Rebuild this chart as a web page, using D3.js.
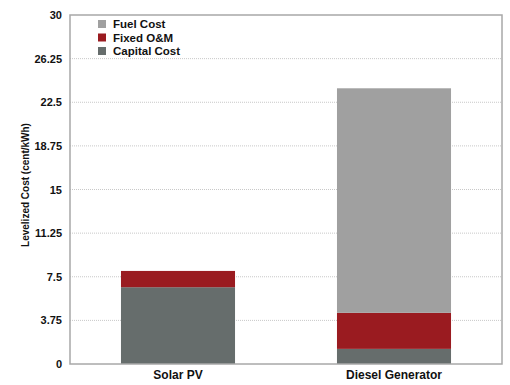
<html>
    <head>
        <script src="https://d3js.org/d3.v7.min.js"></script>
        <title>Levelized Cost</title>
        <style>
            body { margin: 0; background: #fff; }
            text { font-family: "Liberation Sans", Arial, sans-serif; font-weight: bold; fill: #111; }
        </style>
    </head>
    <body>
        <div class="viz"></div>
        <script type="text/javascript">
            var categories = ["Solar PV", "Diesel Generator"];
            var capitalCost = [6.6, 1.3];
            var fixedOM = [1.4, 3.1];
            var fuelCost = [0, 19.3];
            var tickValues = [0, 3.75, 7.5, 11.25, 15, 18.75, 22.5, 26.25, 30];
            var seriesNames = ["Capital Cost", "Fixed O&M", "Fuel Cost"];
            var seriesColors = ["#666d6c", "#9a1b20", "#a0a0a0"];

            var vizWidth = 510, vizHeight = 385;
            var margin = {top: 15, right: 8, bottom: 21, left: 70};
            var w = vizWidth - margin.left - margin.right;
            var h = vizHeight - margin.top - margin.bottom;

            var table = categories.map(function(c, i){
                return {cat: c, "Capital Cost": capitalCost[i], "Fixed O&M": fixedOM[i], "Fuel Cost": fuelCost[i]};
            });
            var stacked = d3.stack().keys(seriesNames)(table);

            var xScale = d3.scaleBand()
                    .domain(categories)
                    .range([0, w])
                    .paddingInner(0.472)
                    .paddingOuter(0.236);

            var yScale = d3.scaleLinear()
                    .domain([0, 30])
                    .range([h, 0]);

            var svg = d3.select("div")
                        .append("svg")
                        .attr("width", vizWidth)
                        .attr("height", vizHeight);

            var g = svg.append("g")
                    .attr("transform", "translate(" + margin.left + "," + margin.top + ")");

            // dotted grid lines
            g.selectAll("line.grid")
                .data(tickValues.filter(function(d){ return d > 0 && d < 30; }))
                .enter()
                .append("line")
                .attr("class", "grid")
                .attr("x1", 0).attr("x2", w)
                .attr("y1", function(d){ return yScale(d); })
                .attr("y2", function(d){ return yScale(d); })
                .attr("stroke", "#c8c8c8")
                .attr("stroke-width", 1)
                .attr("stroke-dasharray", "1,1");

            g.selectAll("g.layer")
                .data(stacked)
                .enter()
                .append("g")
                .attr("class", "layer")
                .attr("fill", function(d, i){ return seriesColors[i]; })
                .selectAll("rect")
                .data(function(d){ return d; })
                .enter()
                .append("rect")
                .attr("x", function(d){ return xScale(d.data.cat); })
                .attr("width", xScale.bandwidth())
                .attr("y", function(d){ return yScale(d[1]); })
                .attr("height", function(d){ return yScale(d[0]) - yScale(d[1]); });

            // frame
            g.append("rect")
                .attr("x", 0).attr("y", 0)
                .attr("width", w).attr("height", h)
                .attr("fill", "none")
                .attr("stroke", "#a8a8a8")
                .attr("stroke-width", 1.5);

            var yAxis = g.append("g")
                .call(d3.axisLeft(yScale).tickValues(tickValues).tickSize(0).tickPadding(8)
                    .tickFormat(function(d){ return String(d); }));
            yAxis.select(".domain").remove();
            yAxis.selectAll("text").style("font-size", "11px");

            var xAxis = g.append("g")
                .attr("transform", "translate(0," + h + ")")
                .call(d3.axisBottom(xScale).tickSize(0).tickPadding(6));
            xAxis.select(".domain").remove();
            xAxis.selectAll("text").style("font-size", "12px");

            svg.append("text")
                .attr("transform", "translate(29,185) rotate(-90)")
                .attr("text-anchor", "middle")
                .style("font-size", "10px")
                .text("Levelized Cost (cent/kWh)");

            var legend = svg.selectAll("g.legend")
                .data(seriesNames.slice().reverse())
                .enter()
                .append("g")
                .attr("class", "legend")
                .attr("transform", function(d, i){ return "translate(98," + (20 + i * 13.5) + ")"; });

            legend.append("rect")
                .attr("width", 8).attr("height", 8)
                .attr("fill", function(d){ return seriesColors[seriesNames.indexOf(d)]; });

            legend.append("text")
                .attr("x", 15).attr("y", 8)
                .style("font-size", "11.5px")
                .text(function(d){ return d; });
        </script>
    </body>
</html>
